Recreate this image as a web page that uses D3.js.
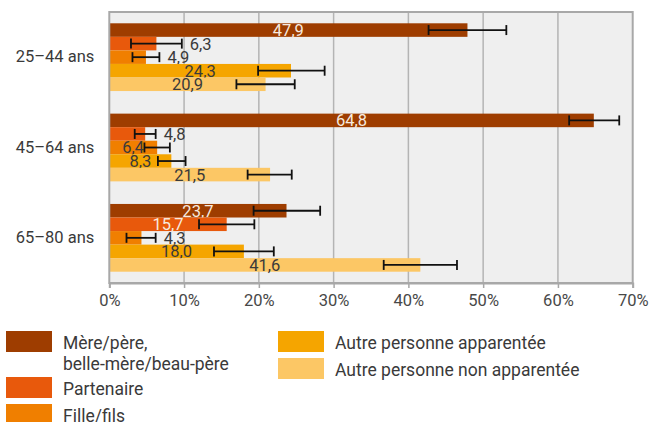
<!DOCTYPE html>
<html>
<head>
<meta charset="utf-8">
<style>
  body { margin: 0; background: #fff; }
  * { font-family: Roboto, "Noto Sans", sans-serif; }
</style>
</head>
<body>
<div id="chart"></div>
<script src="https://d3js.org/d3.v7.min.js"></script>
<script>

  // data
  var groups = ["25\u201344 ans", "45\u201364 ans", "65\u201380 ans"];
  var series = ["Mère/père, belle-mère/beau-père", "Partenaire", "Fille/fils",
                "Autre personne apparentée", "Autre personne non apparentée"];
  var colors = ["#9e3d00", "#e8590c", "#f07f00", "#f5a500", "#fcc765"];

  // values per group, in series order
  var values = [
    [47.9, 6.3, 4.9, 24.3, 20.9],
    [64.8, 4.8, 6.4, 8.3, 21.5],
    [23.7, 15.7, 4.3, 18.0, 41.6]
  ];
  var errLow = [
    [42.7, 2.9, 3.1, 19.9, 17.0],
    [61.5, 3.4, 4.7, 6.5, 18.5],
    [19.3, 12.0, 2.3, 14.0, 36.7]
  ];
  var errHigh = [
    [53.1, 9.7, 6.7, 28.8, 24.8],
    [68.2, 6.2, 8.1, 10.2, 24.4],
    [28.2, 19.4, 6.2, 22.0, 46.5]
  ];
  // labels drawn right of the error bar instead of inside the bar
  var labelOutside = [
    [false, true, true, false, false],
    [false, true, false, false, false],
    [false, false, true, false, false]
  ];

  var xTicks = [0, 10, 20, 30, 40, 50, 60, 70];

  var legendLeft = [
    { s: 0, lines: ["Mère/père,", "belle-mère/beau-père"] },
    { s: 1, lines: ["Partenaire"] },
    { s: 2, lines: ["Fille/fils"] }
  ];
  var legendRight = [
    { s: 3, lines: ["Autre personne apparentée"] },
    { s: 4, lines: ["Autre personne non apparentée"] }
  ];

  var W = 650, H = 422;
  var margin = { top: 12, left: 109.3, right: 17.3, bottom: 139 };
  var width = W - margin.left - margin.right,
      height = H - margin.top - margin.bottom;

  var root = d3.select("#chart").append("svg")
    .attr("width", W).attr("height", H);

  var svg = root.append("g")
    .attr("transform", "translate(" + margin.left + "," + margin.top + ")");

  var x = d3.scaleLinear().domain([0, 70]).range([0, width]);
  var y = d3.scaleBand().domain(groups).range([0, height])
    .paddingInner(0.25).paddingOuter(0.125);
  var yIn = d3.scaleBand().domain(d3.range(series.length)).range([0, y.bandwidth()]);

  // plot background
  svg.append("rect")
    .attr("width", width).attr("height", height)
    .attr("fill", "#efefef");

  // grid lines
  svg.append("g").selectAll("line")
    .data(xTicks.slice(1, -1))
    .enter().append("line")
    .attr("x1", function(d) { return x(d); })
    .attr("x2", function(d) { return x(d); })
    .attr("y1", 0).attr("y2", height)
    .attr("stroke", "#b4b4b4")
    .attr("stroke-width", 1.5);

  // bars
  var rows = [];
  groups.forEach(function(g, gi) {
    series.forEach(function(s, si) {
      rows.push({ g: g, gi: gi, si: si, v: values[gi][si],
        lo: errLow[gi][si], hi: errHigh[gi][si], out: labelOutside[gi][si] });
    });
  });

  var bar = svg.append("g").selectAll("g")
    .data(rows)
    .enter().append("g")
    .attr("transform", function(d) { return "translate(0," + (y(d.g) + yIn(d.si)) + ")"; });

  bar.append("rect")
    .attr("x", 0)
    .attr("width", function(d) { return x(d.v); })
    .attr("height", yIn.bandwidth())
    .attr("fill", function(d) { return colors[d.si]; });

  // error bars
  var bh = yIn.bandwidth();
  bar.append("line")
    .attr("x1", function(d) { return x(d.lo); })
    .attr("x2", function(d) { return x(d.hi); })
    .attr("y1", bh / 2).attr("y2", bh / 2)
    .attr("stroke", "#111").attr("stroke-width", 1.8);
  bar.append("line")
    .attr("x1", function(d) { return x(d.lo); })
    .attr("x2", function(d) { return x(d.lo); })
    .attr("y1", bh / 2 - 5).attr("y2", bh / 2 + 5)
    .attr("stroke", "#111").attr("stroke-width", 1.8);
  bar.append("line")
    .attr("x1", function(d) { return x(d.hi); })
    .attr("x2", function(d) { return x(d.hi); })
    .attr("y1", bh / 2 - 5).attr("y2", bh / 2 + 5)
    .attr("stroke", "#111").attr("stroke-width", 1.8);

  // value labels
  bar.append("text")
    .attr("x", function(d) { return d.out ? x(d.hi) + 8 : x(d.v) / 2; })
    .attr("y", bh / 2)
    .attr("dy", "0.36em")
    .attr("text-anchor", function(d) { return d.out ? "start" : "middle"; })
    .style("font-size", "16.5px")
    .style("fill", function(d) { return (!d.out && d.si < 2) ? "#f6e9df" : "#3a3a3a"; })
    .text(function(d) { return d3.format(".1f")(d.v).replace(".", ","); });

  // frame
  svg.append("rect")
    .attr("width", width).attr("height", height)
    .attr("fill", "none")
    .attr("stroke", "#a8a8a8")
    .attr("stroke-width", 2);

  // axes
  var xaxis = d3.axisBottom(x)
    .tickValues(xTicks)
    .tickSize(5)
    .tickPadding(6)
    .tickFormat(function(d) { return d + "%"; });

  var gx = svg.append("g")
    .attr("transform", "translate(0," + height + ")")
    .call(xaxis);
  gx.select(".domain").attr("stroke", "#a8a8a8").attr("stroke-width", 2);
  gx.selectAll(".tick line").attr("stroke", "#a8a8a8").attr("stroke-width", 1.5);
  gx.selectAll(".tick text")
    .style("font-size", "16.5px").style("fill", "#484848")
    .style("font-family", "Roboto");

  var gy = svg.append("g")
    .call(d3.axisLeft(y).tickSize(0).tickPadding(15));
  gy.select(".domain").remove();
  gy.selectAll(".tick text")
    .style("font-size", "16.5px").style("fill", "#3a3a3a")
    .style("font-family", "Roboto");

  // legend
  function drawLegend(items, x0) {
    var top = 331;
    items.forEach(function(it) {
      var lg = root.append("g").attr("transform", "translate(" + x0 + "," + top + ")");
      lg.append("rect")
        .attr("width", 46).attr("height", 21)
        .attr("fill", colors[it.s]);
      it.lines.forEach(function(t, i) {
        lg.append("text")
          .attr("x", 57)
          .attr("y", 18 + i * 21)
          .style("font-size", "17.5px")
          .style("fill", "#3a3a3a")
          .text(t);
      });
      top += 27 + (it.lines.length - 1) * 19;
    });
  }
  drawLegend(legendLeft, 6);
  drawLegend(legendRight, 278);

</script>
</body>
</html>
